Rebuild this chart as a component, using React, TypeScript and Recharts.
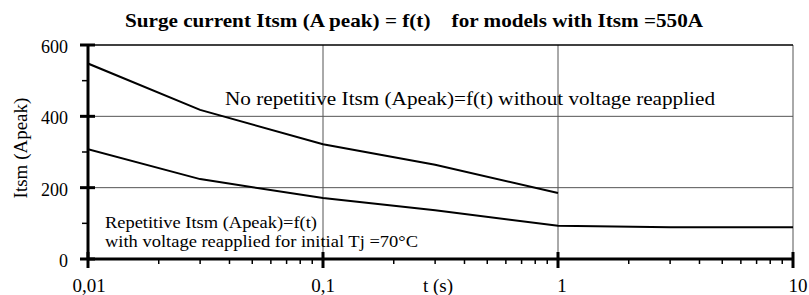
import { LineChart, Line, XAxis, YAxis, ReferenceLine } from 'recharts';

// values (log time axis)
const surgeNoVoltage = [
  { t: 0.01, v: 548 },
  { t: 0.03, v: 418 },
  { t: 0.1, v: 322 },
  { t: 0.3, v: 264 },
  { t: 1, v: 185 },
];
const surgeRepetitive = [
  { t: 0.01, v: 308 },
  { t: 0.03, v: 224 },
  { t: 0.1, v: 171 },
  { t: 0.3, v: 137 },
  { t: 1, v: 93 },
  { t: 3, v: 89 },
  { t: 10, v: 89 },
];
const xMajor = [0.01, 0.1, 1, 10];
const xMinor = [0.02, 0.03, 0.04, 0.05, 0.06, 0.07, 0.08, 0.09, 0.2, 0.3, 0.4, 0.5, 0.6, 0.7, 0.8, 0.9, 2, 3, 4, 5, 6, 7, 8, 9];
const yMajor = [0, 200, 400, 600];
const yMinor = [100, 300, 500];
const xGrid = [0.1, 1, 10];
const yGrid = [200, 400, 600];

const FONT = 'Liberation Serif';

// excel nudges the x labels a little to the right
const xLabelShift: Record<string, number> = { '0.01': 1, '0.1': 0, '1': 4, '10': 5 };

const XTick = (props: any) => {
  const { x, y, payload } = props;
  const major = xMajor.includes(payload.value);
  if (!major) {
    return <line x1={x} y1={y} x2={x} y2={y + 5} stroke="#000" strokeWidth={1.5} />;
  }
  return (
    <g>
      <line x1={x} y1={y - 7} x2={x} y2={y + 9} stroke="#000" strokeWidth={3} />
      <text
        x={x + (xLabelShift[String(payload.value)] || 0)}
        y={y + 33}
        textAnchor="middle"
        fontFamily={FONT}
        fontSize={19}
        fill="#000"
      >
        {String(payload.value).replace('.', ',')}
      </text>
    </g>
  );
};

const YTick = (props: any) => {
  const { x, y, payload } = props;
  const major = yMajor.includes(payload.value);
  if (!major) {
    return <line x1={x - 6} y1={y} x2={x} y2={y} stroke="#000" strokeWidth={1.5} />;
  }
  return (
    <g>
      <line x1={x - 8} y1={y} x2={x + 7} y2={y} stroke="#000" strokeWidth={3} />
      <text x={x - 20} y={y + 8} textAnchor="end" fontFamily={FONT} fontSize={18} fill="#000">
        {payload.value}
      </text>
    </g>
  );
};

export default function App() {
  return (
    <div style={{ position: 'absolute', left: 0, top: 0, width: 809, height: 295, background: '#fff' }}>
      <LineChart width={809} height={295} margin={{ top: 45, right: 16, bottom: 0, left: 0 }}>
        <XAxis
          dataKey="t"
          type="number"
          scale="log"
          domain={[0.01, 10]}
          ticks={[...xMajor, ...xMinor]}
          allowDataOverflow
          axisLine={{ stroke: '#000', strokeWidth: 3 }}
          tickLine={false}
          tickSize={0}
          tickMargin={0}
          tick={<XTick />}
          height={36}
          interval={0}
        />
        <YAxis
          dataKey="v"
          type="number"
          domain={[0, 600]}
          ticks={[...yMajor, ...yMinor]}
          axisLine={{ stroke: '#000', strokeWidth: 3 }}
          tickLine={false}
          tickSize={0}
          tickMargin={0}
          tick={<YTick />}
          width={88}
          interval={0}
        />
        {xGrid.map((g) => (
          <ReferenceLine key={'x' + g} x={g} stroke="#555" strokeWidth={1} />
        ))}
        {yGrid.map((g) => (
          <ReferenceLine key={'y' + g} y={g} stroke={g === 600 ? '#000' : '#555'} strokeWidth={g === 600 ? 1.5 : 1} />
        ))}
        <Line data={surgeNoVoltage} dataKey="v" stroke="#000" strokeWidth={2} dot={false} isAnimationActive={false} />
        <Line data={surgeRepetitive} dataKey="v" stroke="#000" strokeWidth={2} dot={false} isAnimationActive={false} />
      </LineChart>
      <svg
        width={809}
        height={295}
        style={{ position: 'absolute', left: 0, top: 0, pointerEvents: 'none' }}
        fontFamily={FONT}
        fill="#000"
      >
        <text x={125} y={27} fontSize={19} fontWeight="bold" textLength={578} lengthAdjust="spacingAndGlyphs" xmlSpace="preserve">
          {'Surge current Itsm (A peak) = f(t)    for models with Itsm =550A'}
        </text>
        <text x={225} y={105} fontSize={19} textLength={490} lengthAdjust="spacingAndGlyphs">
          No repetitive Itsm (Apeak)=f(t) without voltage reapplied
        </text>
        <text x={105} y={228} fontSize={17} textLength={212} lengthAdjust="spacingAndGlyphs">
          Repetitive Itsm (Apeak)=f(t)
        </text>
        <text x={105} y={247} fontSize={17} textLength={313} lengthAdjust="spacingAndGlyphs">
          with voltage reapplied for initial Tj =70°C
        </text>
        <text x={423} y={292} fontSize={19}>
          t (s)
        </text>
        <text x={0} y={0} fontSize={19} textAnchor="middle" transform="translate(27,148) rotate(-90)">
          Itsm (Apeak)
        </text>
      </svg>
    </div>
  );
}
